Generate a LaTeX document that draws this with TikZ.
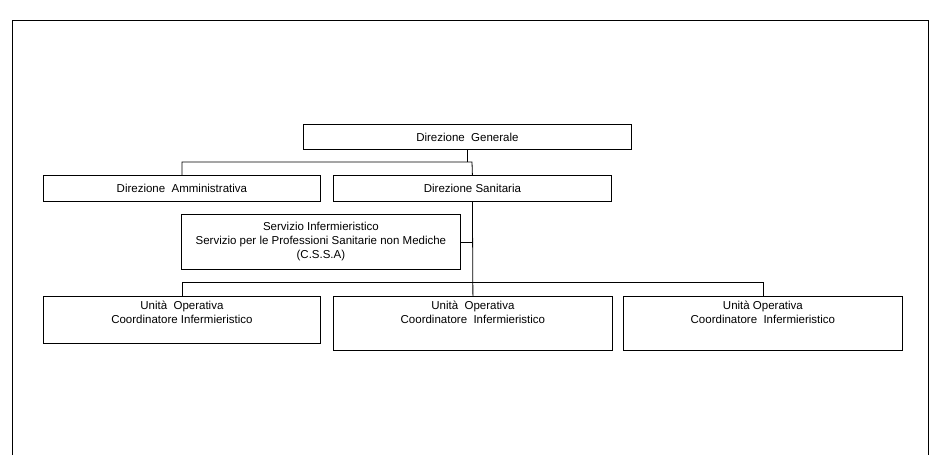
\documentclass[tikz,border=0pt]{standalone}
\usepackage{fontspec}
\setmainfont{Liberation Sans}
\begin{document}
\begin{tikzpicture}[x=1pt,y=-1pt,
  box/.style={draw=black, line width=0.8pt, rectangle, inner sep=0pt, anchor=north west, align=center, font=\fontsize{11.5}{14}\selectfont},
  conn/.style={draw=black, line width=0.8pt},
  frameline/.style={draw=black, line width=0.9pt}]
\useasboundingbox (0,0) rectangle (933,455);
% outer frame (open at the bottom)
\coordinate (fbl) at (12,455);
\coordinate (ftl) at (12,20);
\coordinate (ftr) at (928,20);
\coordinate (fbr) at (928,455);
\draw[frameline] (fbl) -- (ftl) -- (ftr) -- (fbr);
% boxes
\node[box, minimum width=328pt, minimum height=25pt] (dg) at (303,124) {Direzione\ \ Generale};
\node[box, minimum width=277pt, minimum height=26pt] (da) at (43,175) {Direzione\ \ Amministrativa};
\node[box, minimum width=278pt, minimum height=26pt] (ds) at (333,175) {Direzione Sanitaria};
\node[box, minimum width=279pt, minimum height=55pt] (si) at (181,214) {Servizio Infermieristico\\Servizio per le Professioni Sanitarie non Mediche\\(C.S.S.A)};
\node[box] (u1) at (43,296) {\parbox[c][47pt][t]{277pt}{\centering\fontsize{11.5}{14}\selectfont\vspace*{4.5pt}Unità\ \ Operativa\\Coordinatore Infermieristico}};
\node[box] (u2) at (333,296) {\parbox[c][54pt][t]{279pt}{\centering\fontsize{11.5}{14}\selectfont\vspace*{4.5pt}Unità\ \ Operativa\\Coordinatore\ \ Infermieristico}};
\node[box] (u3) at (623,296) {\parbox[c][54pt][t]{279pt}{\centering\fontsize{11.5}{14}\selectfont\vspace*{4.5pt}Unità\ Operativa\\Coordinatore\ \ Infermieristico}};
% connectors
\coordinate (h1) at (472,162);
\coordinate (h2) at (472,282);
\draw[conn] (dg.south) -- (dg.south |- h1);
\draw[conn] (da.north) |- (h1) -- (ds.north);
\draw[conn] (ds.south) -- (u2.north);
\draw[conn] (si.east) -- (si.east -| ds.south);
\draw[conn] (u1.north) |- (h2 -| u3.north) -- (u3.north);
\end{tikzpicture}
\end{document}
